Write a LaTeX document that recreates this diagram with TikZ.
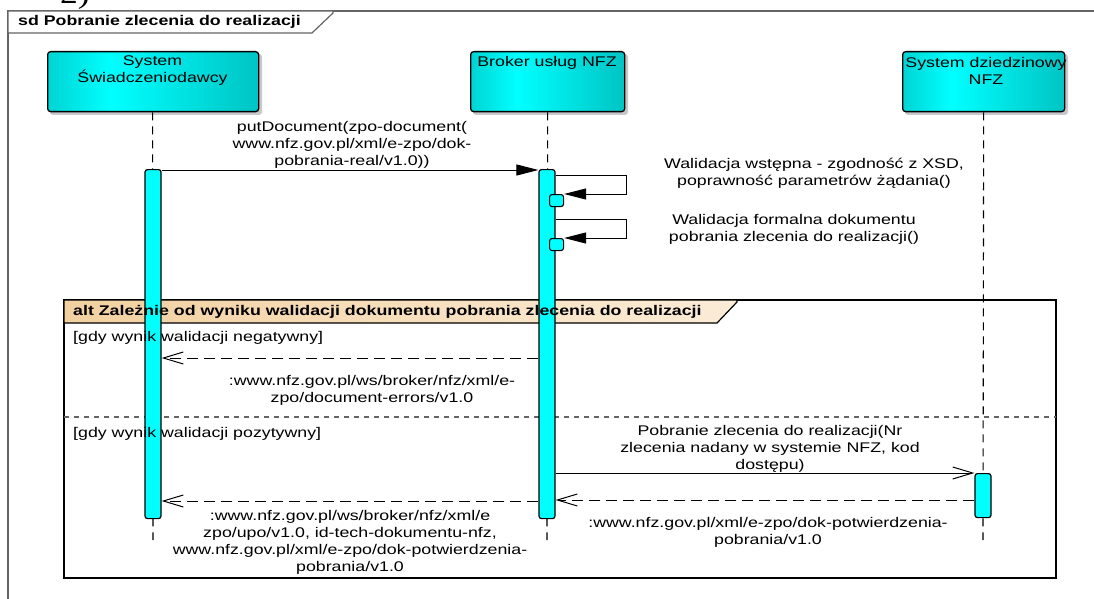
\documentclass[tikz,border=0pt]{standalone}
\usepackage{fontspec}
\setmainfont{Liberation Sans}[FakeStretch=1.27]
\newfontfamily\serifnum{Liberation Serif}[FakeStretch=1.27]
\usetikzlibrary{arrows.meta}
\definecolor{barcyan}{RGB}{0,255,255}
\definecolor{boxA}{RGB}{0,212,212}
\definecolor{boxB}{RGB}{0,255,255}
\definecolor{boxC}{RGB}{0,196,196}
\definecolor{frameg}{RGB}{100,100,100}
\definecolor{tanA}{RGB}{242,208,160}
\definecolor{tanB}{RGB}{251,236,215}
\definecolor{shadowg}{RGB}{200,200,205}
\pgfdeclarehorizontalshading{lifeshade}{100bp}{color(0bp)=(boxA); color(25bp)=(boxA); color(40bp)=(boxB); color(75bp)=(boxC); color(100bp)=(boxC)}
\begin{document}
\begin{tikzpicture}[x=1pt,y=-1pt,
  font=\fontsize{14}{17}\selectfont,
  lifebox/.style={draw=black, line width=1.3pt, rounded corners=3pt, shading=lifeshade, inner sep=0pt, anchor=north west},
  boxshadow/.style={fill=shadowg, rounded corners=3pt},
  lifeline/.style={draw=black, line width=1.1pt, dash pattern=on 8pt off 6pt},
  actbar/.style={draw=black, fill=barcyan, line width=1.2pt, rounded corners=2.5pt, minimum width=16pt, inner sep=0pt, anchor=north},
  smallbar/.style={draw=black, fill=barcyan, line width=1.1pt, rounded corners=2.5pt, minimum width=14pt, minimum height=12pt, inner sep=0pt, anchor=north west},
  syncmsg/.style={draw=black, line width=1pt, -{Triangle[length=22pt,width=11pt]}},
  asyncmsg/.style={draw=black, line width=1pt, -{Straight Barb[length=20pt,width=12pt,line width=1pt]}},
  retmsg/.style={draw=black, line width=1pt, dash pattern=on 11pt off 6pt, -{Straight Barb[length=20pt,width=12pt,line width=1pt]}},
  lbl/.style={align=center, inner sep=0pt, text=black},
  guard/.style={anchor=west, inner sep=0pt, text=black},
  hdr/.style={anchor=west, inner sep=0pt, font=\fontsize{14}{17}\selectfont\bfseries}
]
\useasboundingbox (0,0) rectangle (1094,599);
\fill[white] (0,0) rectangle (1094,599);

% fragment of a caption cut off at the top
\begin{scope}
  \clip (0,0) rectangle (1094,599);
  \node[anchor=base west, inner sep=0pt, font=\fontsize{28}{30}\selectfont\serifnum] (capfrag) at (60,4) {2)};
\end{scope}

% outer sd frame
\draw[frameg, line width=1.4pt] (1094,11) -- (8,11) -- (8,599);
\draw[frameg, line width=1.2pt, fill=white] (8,11) -- (333,11) -- (333,13) -- (312,33) -- (8,33) -- cycle;
\node[hdr] (sdtitle) at (18,22) {sd Pobranie zlecenia do realizacji};

% lifeline heads
\fill[boxshadow] (50,54) rectangle (262,115);
\fill[boxshadow] (473,54) rectangle (628,115);
\fill[boxshadow] (905,54) rectangle (1068,115);
\node[lifebox, minimum width=211pt, minimum height=60pt] (sys) at (47,51) {};
\node[lifebox, minimum width=154pt, minimum height=60pt] (brk) at (470,51) {};
\node[lifebox, minimum width=162pt, minimum height=60pt] (nfz) at (902,51) {};
\node[lbl] (systxt) at (152.5,71) {System\\Świadczeniodawcy};
\node[lbl] (brktxt) at (547,62.5) {Broker usług NFZ};
\node[lbl] (nfztxt) at (986,71) {System dziedzinowy\\NFZ};

% lifelines
\coordinate (l1e) at (153,540);
\coordinate (l2e) at (547,540);
\coordinate (l3e) at (983,540);
\draw[lifeline] (sys.south) ++(-0.5,0) -- (l1e);
\draw[lifeline] (brk.south) -- (l2e);
\draw[lifeline] (nfz.south) -- (l3e);

% alt combined fragment
\draw[black, line width=1.6pt] (64,300) rectangle (1056,578);
\shade[left color=tanA, right color=tanB, draw=black, line width=1.2pt] (64,300) -- (737,300) -- (737,302) -- (717,323) -- (64,323) -- cycle;
\draw[frameg, line width=1.2pt, dash pattern=on 5pt off 5pt] (64,417) -- (1056,417);

% activation bars
\node[actbar, minimum height=349pt] (b1) at (153,169) {};
\node[actbar, minimum height=349pt] (b2) at (547,169) {};
\node[actbar, minimum height=44pt] (b3) at (983,473) {};
\node[smallbar] (s1) at (549,194) {};
\node[smallbar] (s2) at (549,238) {};

% texts of the alt fragment
\node[hdr] (alttitle) at (73,312) {alt Zależnie od wyniku walidacji dokumentu pobrania zlecenia do realizacji};
\node[guard] (g1) at (73,338) {[gdy wynik walidacji negatywny]};
\node[guard] (g2) at (73,434) {[gdy wynik walidacji pozytywny]};

% message 1
\coordinate (m1a) at (b1.east |- 0,170);
\coordinate (m1b) at (b2.west |- 0,170);
\draw[syncmsg] (m1a) -- (m1b);
\node[lbl] (m1l) at (352,145) {putDocument(zpo-document(\\www.nfz.gov.pl/xml/e-zpo/dok-\\pobrania-real/v1.0))};

% self calls
\coordinate (sc1a) at (b2.east |- 0,175);
\coordinate (sc1b) at (626,175);
\coordinate (sc1c) at (626,194);
\draw[syncmsg] (sc1a) -- (sc1b) -- (sc1c) -- (s1.north east);
\node[lbl] (sc1l) at (814,173.5) {Walidacja wstępna - zgodność z XSD,\\poprawność parametrów żądania()};
\coordinate (sc2a) at (b2.east |- 0,219);
\coordinate (sc2b) at (626,219);
\coordinate (sc2c) at (626,238);
\draw[syncmsg] (sc2a) -- (sc2b) -- (sc2c) -- (s2.north east);
\node[lbl] (sc2l) at (794,229.5) {Walidacja formalna dokumentu\\pobrania zlecenia do realizacji()};

% negative return
\coordinate (r1a) at (b2.west |- 0,358);
\coordinate (r1b) at (b1.east |- 0,358);
\draw[retmsg] (r1a) -- (r1b);
\node[lbl] (r1l) at (372,390) {:www.nfz.gov.pl/ws/broker/nfz/xml/e-\\zpo/document-errors/v1.0};

% positive branch
\coordinate (m2a) at (b2.east |- 0,473);
\coordinate (m2b) at (b3.west |- 0,473);
\draw[asyncmsg] (m2a) -- (m2b);
\node[lbl] (m2l) at (770,449) {Pobranie zlecenia do realizacji(Nr\\zlecenia nadany w systemie NFZ, kod\\dostępu)};

\coordinate (r2a) at (b3.west |- 0,500);
\coordinate (r2b) at (b2.east |- 0,500);
\draw[retmsg] (r2a) -- (r2b);
\node[lbl] (r2l) at (768,532) {:www.nfz.gov.pl/xml/e-zpo/dok-potwierdzenia-\\pobrania/v1.0};

\coordinate (r3a) at (b2.west |- 0,501);
\coordinate (r3b) at (b1.east |- 0,501);
\draw[retmsg] (r3a) -- (r3b);
\node[lbl] (r3l) at (350,542.5) {:www.nfz.gov.pl/ws/broker/nfz/xml/e\\zpo/upo/v1.0, id-tech-dokumentu-nfz,\\www.nfz.gov.pl/xml/e-zpo/dok-potwierdzenia-\\pobrania/v1.0};
\end{tikzpicture}
\end{document}
